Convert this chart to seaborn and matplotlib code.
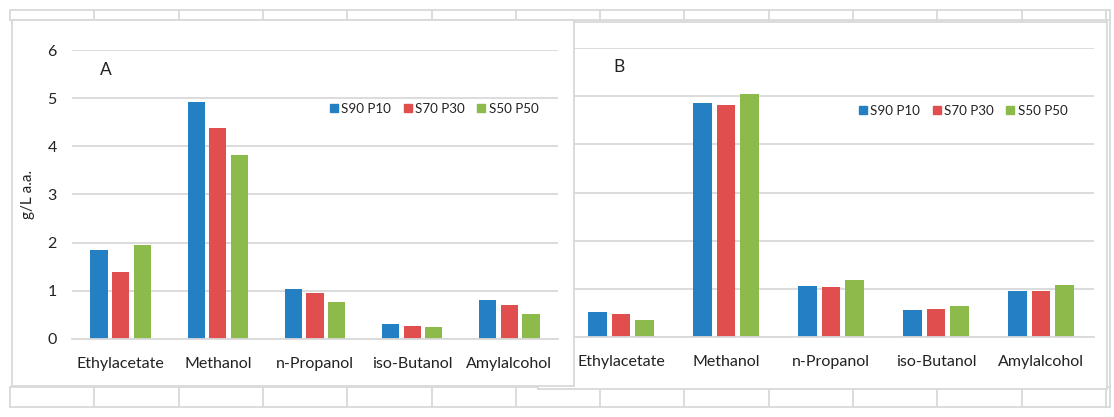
import matplotlib
matplotlib.use("Agg")
import matplotlib.pyplot as plt
import seaborn as sns
import pandas as pd
from matplotlib.lines import Line2D

# ---------------- data ----------------
compounds = ["Ethylacetate", "Methanol", "n-Propanol", "iso-Butanol", "Amylalcohol"]
series = ["S90 P10", "S70 P30", "S50 P50"]
colors = ["#2580C3", "#E04E4E", "#8CBA4B"]

a_s90p10 = [1.85, 4.93, 1.03, 0.30, 0.81]
a_s70p30 = [1.38, 4.38, 0.95, 0.27, 0.70]
a_s50p50 = [1.95, 3.82, 0.76, 0.24, 0.51]

b_s90p10 = [0.52, 4.85, 1.06, 0.56, 0.95]
b_s70p30 = [0.47, 4.82, 1.03, 0.59, 0.95]
b_s50p50 = [0.35, 5.04, 1.19, 0.65, 1.08]

yticks = [0, 1, 2, 3, 4, 5, 6]
ylabel = "g/L a.a."


def long_df(v1, v2, v3):
    rows = []
    for s, vals in zip(series, [v1, v2, v3]):
        for c, v in zip(compounds, vals):
            rows.append({"compound": c, "series": s, "value": v})
    return pd.DataFrame(rows)


dfA = long_df(a_s90p10, a_s70p30, a_s50p50)
dfB = long_df(b_s90p10, b_s70p30, b_s50p50)

# ---------------- style ----------------
sns.set_theme(style="white")
plt.rcParams["font.family"] = ["Lato", "DejaVu Sans"]
TXT = "#222222"
GRID = "#d9d9d9"

W, H = 1114, 417
fig = plt.figure(figsize=(W / 100, H / 100), dpi=100)
fig.patch.set_facecolor("white")


def px_rect(x0, y0, x1, y1):
    """pixel box (top-left origin) -> figure fraction rect"""
    return [x0 / W, (H - y1) / H, (x1 - x0) / W, (y1 - y0) / H]


# ---------------- spreadsheet background ----------------
bg = fig.add_axes([0, 0, 1, 1])
bg.set_xlim(0, W)
bg.set_ylim(H, 0)
bg.axis("off")
bg.set_zorder(0)
col_x = [10 + 84.3 * k for k in range(14)]
for yy in [10, 20, 387, 407]:
    bg.plot([10, 1110], [yy, yy], color=GRID, lw=1.3)
for xx in col_x:
    bg.plot([xx, xx], [10, 20], color=GRID, lw=1.3)
    bg.plot([xx, xx], [387, 407], color=GRID, lw=1.3)
bg.plot([1110, 1110], [10, 407], color=GRID, lw=1.3)


def panel_box(rect, z):
    pb = fig.add_axes(px_rect(*rect))
    pb.set_facecolor("white")
    pb.set_xticks([])
    pb.set_yticks([])
    for sp in pb.spines.values():
        sp.set_color(GRID)
        sp.set_linewidth(1.3)
    pb.set_zorder(z)
    return pb


def draw_panel(df, rect, z, letter, letter_xy, leg_x, leg_y, show_y):
    ax = fig.add_axes(px_rect(*rect))
    ax.set_zorder(z)
    ax.patch.set_alpha(0)
    sns.barplot(data=df, x="compound", y="value", hue="series",
                palette=colors, saturation=1, width=0.665, gap=0.2,
                linewidth=0, errorbar=None, legend=False, ax=ax)
    ax.set_ylim(0, 6)
    ax.set_yticks(yticks)
    ax.grid(axis="y", color=GRID, lw=1.3)
    ax.set_axisbelow(True)
    for sp in ["top", "right", "left"]:
        ax.spines[sp].set_visible(False)
    ax.spines["bottom"].set_color(GRID)
    ax.spines["bottom"].set_linewidth(1.3)
    ax.tick_params(axis="x", length=0, pad=13, labelsize=11.5, labelcolor=TXT)
    ax.tick_params(axis="y", length=0, pad=11, labelsize=11.5, labelcolor=TXT)
    ax.set_xlabel("")
    if show_y:
        ax.set_ylabel(ylabel, fontsize=11, color=TXT)
        ax.yaxis.set_label_coords(-0.076, 0.5)
    else:
        ax.set_ylabel("")
        ax.set_yticklabels([])
    ax.text(letter_xy[0] / W, (H - letter_xy[1]) / H, letter,
            transform=fig.transFigure, ha="center", va="center",
            fontsize=12.5, color=TXT, zorder=10)
    handles = [Line2D([], [], marker="s", linestyle="none", color=c,
                      markersize=6) for c in colors]
    leg = ax.legend(handles, series, loc="center left",
                    bbox_to_anchor=(leg_x / W, (H - leg_y) / H),
                    bbox_transform=fig.transFigure, ncol=3, frameon=False,
                    fontsize=9.6, handlelength=0.55, handletextpad=0.3,
                    columnspacing=0.95, borderpad=0, borderaxespad=0)
    for t in leg.get_texts():
        t.set_color(TXT)
    return ax


# panel B (behind A)
panel_box((538, 22, 1107, 389), 1)
draw_panel(dfB, (568.5, 48, 1093.5, 337), 2, "B", (619, 67), 859, 111, False)

# panel A (on top)
panel_box((12, 20, 574, 386), 3)
draw_panel(dfA, (72, 50.5, 558, 338.5), 4, "A", (106, 70), 330, 109, True)

fig.savefig("out.png", dpi=100, facecolor="white")
